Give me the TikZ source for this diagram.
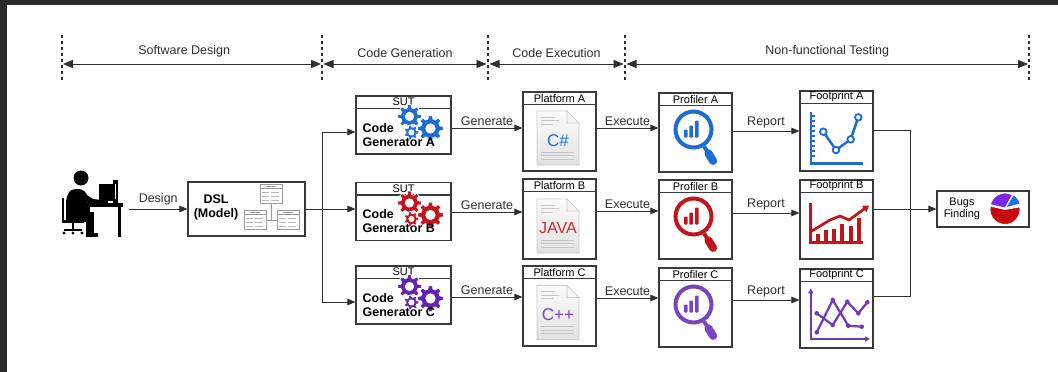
\documentclass[tikz,border=0pt]{standalone}
\usepackage{fontspec}
\setmainfont{Liberation Sans}
\usetikzlibrary{arrows.meta,calc}

\definecolor{frame}{HTML}{2B2B2B}
\definecolor{ink}{HTML}{2E2E2E}
\definecolor{boxline}{HTML}{3A3A3A}
\definecolor{gblue}{HTML}{1E6BD6}
\definecolor{gred}{HTML}{C3131B}
\definecolor{gpurple}{HTML}{6422B0}
\definecolor{docfill}{HTML}{E2E2E2}
\definecolor{docedge}{HTML}{C9C9C9}
\definecolor{docline}{HTML}{C6C6C6}
\definecolor{umlgray}{HTML}{9A9A9A}
\definecolor{piered}{HTML}{C90A0A}
\definecolor{piepurple}{HTML}{7A28E8}
\definecolor{pieblue}{HTML}{1F6FE0}

% box with a title strip on top
\newcommand{\titledbox}[6]{% name, x, y, width, height, title
  \node[box, minimum width=#4pt, minimum height=#5pt] (#1) at (#2,#3) {};
  \draw[draw=boxline, line width=1.1pt] ($(#1.north west)+(0,-13)$) -- ($(#1.north east)+(0,-13)$);
  \node[hdr] at ($(#1.north)+(0,-6.7)$) {#6};
}

\tikzset{
  pics/gear/.style n args={4}{code={% colour, teeth, root radius, tip radius
    \pgfmathsetmacro\gearstep{360/#2}
    \filldraw[fill=#1, draw=white, line width=0.8pt, even odd rule, line join=round]
      ({0.32*\gearstep}:#3)
      \foreach \k in {1,...,#2}{
        -- ({\k*\gearstep-0.32*\gearstep}:#3) -- ({\k*\gearstep-0.2*\gearstep}:#4)
        -- ({\k*\gearstep+0.2*\gearstep}:#4) -- ({\k*\gearstep+0.32*\gearstep}:#3)
      } -- cycle
      (0,0) circle ({0.48*#3});
  }},
  pics/gearset/.style={code={
    \pic at (54,-21) {gear={#1}{8}{8.8}{12}};
    \pic at (75,-33) {gear={#1}{8}{9.8}{13}};
    \pic at (56,-37) {gear={#1}{7}{5.5}{7.5}};
  }},
  pics/doc/.style={code={
    \draw[docedge, line width=0.6pt, top color=white!88!docfill, bottom color=docfill]
      (-21,-27) -- (21,-27) -- (21,15) -- (9,27) -- (-21,27) -- cycle;
    \draw[docedge, line width=0.6pt, fill=white!70!docfill] (9,27) -- (9,15) -- (21,15) -- cycle;
    \foreach \yy/\len in {21/14, 17.5/18, 14/12}
      \draw[docline, line width=0.8pt] (-17,\yy) -- ++(\len,0);
    \foreach \yy in {-14,-17.5,-21}
      \draw[docline, line width=0.8pt] (-17,\yy) -- (16,\yy);
  }},
  pics/magnifier/.style={code={
    \draw[#1, line width=4pt] (-2,3) circle (18);
    \fill[#1, rounded corners=0.8pt] (-11.5,-5) rectangle (-8,3);
    \fill[#1, rounded corners=0.8pt] (-6.2,-5) rectangle (-2.7,7);
    \fill[#1, rounded corners=0.8pt] (-0.5,-5) rectangle (3,12);
    \draw[#1, line width=4pt] (8.6,-14) -- (11.25,-18.2);
    \draw[#1, line width=8pt, line cap=round] (12.9,-20.8) -- (17.6,-28.4);
  }},
}

\begin{document}
\begin{tikzpicture}[x=1pt,y=1pt,
  every node/.style={inner sep=0pt},
  lbl/.style={font=\fontsize{12.5}{14}\selectfont, text=ink},
  hdr/.style={font=\fontsize{11}{12}\selectfont, text=black},
  codetxt/.style={font=\bfseries\fontsize{12.5}{14}\selectfont, text=black, align=left},
  box/.style={draw=boxline, line width=1.1pt, fill=white},
  conn/.style={draw=ink, line width=1pt, -{Triangle[length=8pt,width=6.5pt]}},
  wire/.style={draw=ink, line width=1pt},
  phase/.style={draw=ink, line width=0.9pt, {Triangle[length=10pt,width=8pt]}-{Triangle[length=10pt,width=8pt]}},
  divider/.style={draw=ink, line width=1.2pt, dash pattern=on 3pt off 3pt},
]
\useasboundingbox (0,0) rectangle (1058,-372);
\fill[frame] (0,0) rectangle (1058,-372);
\fill[white] (7,-5) rectangle (1058,-372);

% ---------- phases ----------
\foreach \n/\x in {0/62,1/322,2/488,3/625,4/1029}
  \coordinate (ph\n) at (\x,-64);
\foreach \n in {0,...,4}
  \draw[divider] ($(ph\n)+(0,29)$) -- ($(ph\n)+(0,-17)$);
\draw[phase] ($(ph0)+(1,0)$) -- ($(ph1)+(-1,0)$) node[pos=0.47, above=6pt, lbl]{Software Design};
\draw[phase] ($(ph1)+(1.5,0)$) -- ($(ph2)+(-1.5,0)$) node[midway, above=6pt, lbl]{Code Generation};
\draw[phase] ($(ph2)+(1.5,0)$) -- ($(ph3)+(-1.5,0)$) node[midway, above=6pt, lbl]{Code Execution};
\draw[phase] ($(ph3)+(1.5,0)$) -- ($(ph4)+(-1,0)$) node[midway, above=6pt, lbl]{Non-functional Testing};

% ---------- designer at a desk ----------
\begin{scope}[black]
  \fill (81,-178) circle (7.5);
  \fill[rounded corners=3] (66,-216) -- (66,-199) -- (70,-190) -- (80,-188.5) -- (87,-193) -- (87,-216) -- cycle;
  \draw[line width=6pt, line cap=round] (80,-194) -- (92,-202) -- (103,-203);
  \fill (66,-212) rectangle (94,-222);
  \fill (86,-212) rectangle (94,-236);
  \fill (86,-233) rectangle (98,-237);
  \draw[line width=2.5pt] (63,-198) -- (63,-221);
  \draw[line width=3pt] (62,-221) -- (84,-221);
  \draw[line width=2pt] (73,-221) -- (73,-230);
  \draw[line width=2pt] (64,-230) -- (82,-230);
  \foreach \wx in {64,73,82} \fill (\wx,-233) circle (1.6);
  \fill (82,-202.5) rectangle (123,-207);
  \fill (87,-207) rectangle (90,-237);
  \fill (117.5,-207) rectangle (120.5,-237);
  \fill (99,-184) rectangle (113,-201);
  \fill (104,-201) rectangle (108,-203);
  \fill (113,-180) rectangle (118,-203);
  \draw[white, line width=0.5pt] (115.5,-184) -- (115.5,-199);
\end{scope}
\coordinate (user) at (129,-209);

% ---------- DSL model ----------
\node[box, minimum width=117pt, minimum height=54pt] (dsl) at (246.5,-209) {};
\node[font=\bfseries\fontsize{12.5}{14}\selectfont, align=center, text=black] (dsltxt) at (216,-207) {DSL\\(Model)};
\begin{scope}[draw=umlgray, line width=0.5pt]
  \draw (271,-203) -- (271,-220);
  \draw (266,-220) -- (277,-220);
  \foreach \ux/\uy in {260/184, 244/210, 277/210}{
    \draw[fill=white] (\ux,-\uy) rectangle ++(22,-19);
    \draw (\ux,-\uy-4.5) -- ++(22,0);
    \fill[umlgray] (\ux+6,-\uy-1.6) rectangle ++(10,-1.4);
    \foreach \r in {8,12,16}{
      \draw[umlgray!70, line width=0.8pt] (\ux+2,-\uy-\r) -- ++(7,0);
      \draw[umlgray!70, line width=0.8pt] (\ux+11,-\uy-\r) -- ++(8,0);
    }
  }
\end{scope}
\draw[conn] (user) -- (dsl.west |- user) node[midway, above=3pt, lbl]{Design};

% ---------- code generators ----------
\titledbox{sutA}{403.5}{-125}{95}{58}{SUT}
\titledbox{sutB}{403.5}{-211.5}{95}{58}{SUT}
\titledbox{sutC}{403.5}{-295}{95}{58}{SUT}
\pic at (sutA.north west) {gearset=gblue};
\pic at (sutB.north west) {gearset=gred};
\pic at (sutC.north west) {gearset=gpurple};
\node[codetxt, anchor=north west] at ($(sutA.north west)+(7,-28)$) {Code\\Generator A};
\node[codetxt, anchor=north west] at ($(sutB.north west)+(7,-27)$) {Code\\Generator B};
\node[codetxt, anchor=north west] at ($(sutC.north west)+(7,-28)$) {Code\\Generator C};

\coordinate (forkA) at (322,-132);
\coordinate (forkC) at (322,-302);
\draw[wire] (forkA) -- (forkC);
\draw[conn] (dsl.east) -- (sutB.west |- dsl.east);
\draw[conn] (forkA) -- (sutA.west |- forkA);
\draw[conn] (forkC) -- (sutC.west |- forkC);

% ---------- platforms ----------
\titledbox{platA}{559.5}{-131.5}{73}{79}{Platform A}
\titledbox{platB}{559.5}{-219}{73}{80}{Platform B}
\titledbox{platC}{559.5}{-306}{73}{80}{Platform C}
\pic at ($(platA.center)+(-1.5,-6.5)$) {doc};
\pic at ($(platB.center)+(-1.5,-7)$) {doc};
\pic at ($(platC.center)+(-1.5,-6.5)$) {doc};
\node[font=\fontsize{17}{17}\selectfont, text=gblue] at ($(platA.center)+(-1.5,-9)$) {C\#};
\node[font=\fontsize{16}{16}\selectfont, text=gred!90!white] at ($(platB.center)+(-1.5,-9.5)$) {JAVA};
\node[font=\fontsize{17}{17}\selectfont, text=gpurple!85!white] at ($(platC.center)+(-1.5,-9)$) {C++};

\draw[conn] (sutA.east |- 0,-128) -- (platA.west |- 0,-128) node[midway, above=2pt, lbl]{Generate};
\draw[conn] (sutB.east |- 0,-212) -- (platB.west |- 0,-212) node[midway, above=2pt, lbl]{Generate};
\draw[conn] (sutC.east |- 0,-297) -- (platC.west |- 0,-297) node[midway, above=2pt, lbl]{Generate};

% ---------- profilers ----------
\titledbox{profA}{695.5}{-132.5}{73}{79}{Profiler A}
\titledbox{profB}{695.5}{-219.5}{73}{79}{Profiler B}
\titledbox{profC}{695.5}{-307.5}{73}{79}{Profiler C}
\pic at (profA.center) {magnifier=gblue};
\pic at (profB.center) {magnifier=gred};
\pic at (profC.center) {magnifier=gpurple!85!white};

\draw[conn] (platA.east |- 0,-128) -- (profA.west |- 0,-128) node[midway, above=2pt, lbl]{Execute};
\draw[conn] (platB.east |- 0,-211) -- (profB.west |- 0,-211) node[midway, above=2pt, lbl]{Execute};
\draw[conn] (platC.east |- 0,-298) -- (profC.west |- 0,-298) node[midway, above=2pt, lbl]{Execute};

% ---------- footprints ----------
\titledbox{fpA}{836.5}{-131}{73}{80}{Footprint A}
\titledbox{fpB}{836.5}{-219.5}{73}{79}{Footprint B}
\titledbox{fpC}{836.5}{-308.5}{73}{79}{Footprint C}

\draw[conn] (profA.east |- 0,-131) -- (fpA.west |- 0,-131) node[midway, above=2pt, lbl]{Report};
\draw[conn] (profB.east |- 0,-213) -- (fpB.west |- 0,-213) node[midway, above=2pt, lbl]{Report};
\draw[conn] (profC.east |- 0,-300) -- (fpC.west |- 0,-300) node[midway, above=2pt, lbl]{Report};

% line chart
\begin{scope}[gblue]
  \draw[line width=2.5pt] (811,-111.7) -- (811,-163.3) -- (862.7,-163.3);
  \foreach \t in {0,...,8} \draw[line width=1.4pt] (811,-116-5*\t) -- ++(4,0);
  \draw[line width=2.5pt] (823.3,-131.7) -- (836,-150) -- (850.7,-139.3) -- (858.3,-117.3);
  \foreach \px/\py in {823.3/131.7, 836/150, 850.7/139.3, 858.3/117.3}
    \filldraw[fill=white, line width=1.8pt] (\px,-\py) circle (3.3);
\end{scope}

% bar chart with rising trend
\begin{scope}[gred]
  \draw[line width=2.7pt] (810.7,-203.3) -- (810.7,-242.7) -- (862.7,-242.7);
  \foreach \bx/\bt in {818.3/234, 826.3/230, 834.3/229, 842.3/224, 850.7/226, 859/218}
    \fill (\bx-2,-242) rectangle (\bx+2,-\bt);
  \draw[line width=2.7pt, -{Triangle[length=6pt,width=7.5pt]}] (810.7,-231.7) -- (830,-220) -- (840,-216) -- (849,-220) -- (869,-205.5);
\end{scope}

% crossing series chart
\begin{scope}[gpurple!90!white]
  \draw[line width=1.8pt, {Triangle[length=5pt,width=5pt]}-{Triangle[length=5pt,width=5pt]}] (810.7,-288.3) -- (810.7,-339) -- (870,-339);
  \draw[line width=2.2pt] (816.7,-313.3) -- (832.7,-325) -- (847.3,-301.7) -- (858.3,-313.3) -- (867.3,-302.3);
  \draw[line width=2.2pt] (816.7,-332.3) -- (832.7,-300) -- (848.3,-325.7) -- (861.7,-326.7);
  \foreach \px/\py in {816.7/313.3, 832.7/325, 847.3/301.7, 858.3/313.3, 867.3/302.3, 816.7/332.3, 832.7/300, 848.3/325.7, 861.7/326.7}
    \fill (\px,-\py) circle (2.3);
\end{scope}

% ---------- bugs finding ----------
\node[box, minimum width=92pt, minimum height=36pt] (bugs) at (983,-209) {};
\node[font=\fontsize{11}{12}\selectfont, align=center, text=black] (bugstxt) at (962,-209) {Bugs\\Finding};
\coordinate (pie) at (1005,-208);
\filldraw[fill=piered, draw=white, line width=0.8pt] ($(pie)+(0,-1.5)$) -- ++(10:15) arc[start angle=10, end angle=-193, radius=15] -- cycle;
\filldraw[fill=piepurple, draw=white, line width=0.8pt] (pie) -- ++(60:15) arc[start angle=60, end angle=167, radius=15] -- cycle;
\filldraw[fill=pieblue, draw=white, line width=0.8pt] ($(pie)+(0.8,0.3)$) -- ++(15:15) arc[start angle=15, end angle=60, radius=15] -- cycle;

\coordinate (colA) at (910,-130);
\coordinate (colC) at (910,-296.5);
\draw[wire] (fpA.east |- colA) -- (colA) -- (colC) -- (fpC.east |- colC);
\draw[conn] (fpB.east |- bugs.west) -- (bugs.west);
\end{tikzpicture}
\end{document}
